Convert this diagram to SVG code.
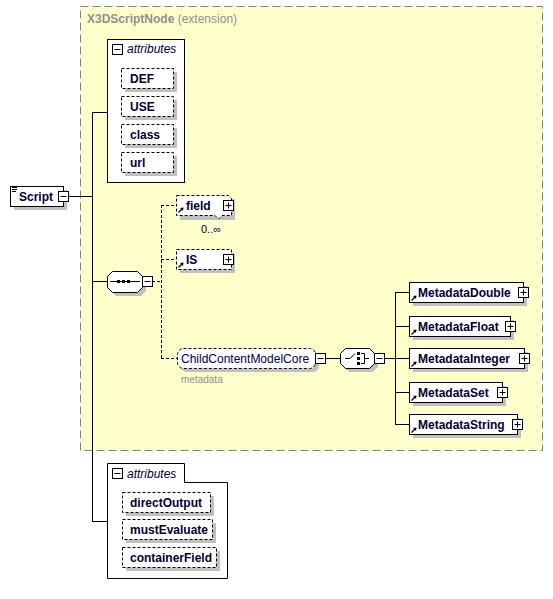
<svg xmlns="http://www.w3.org/2000/svg" width="553" height="599" viewBox="0 0 553 599">
<defs>
<style>
.bg{fill:#ffffff}
.sh{fill:#c0c0c0}
.box{fill:#ffffff;stroke:#000;stroke-width:1}
.dbox{fill:#ffffff;stroke:#000;stroke-width:1;stroke-dasharray:3,2}
.ln{stroke:#000;stroke-width:1;fill:none}
.dln{stroke:#000;stroke-width:1;fill:none;stroke-dasharray:3,2}
.el{font-family:"Liberation Sans",Arial,sans-serif;font-size:12px;font-weight:bold;fill:#000033}
.nm{font-family:"Liberation Sans",Arial,sans-serif;font-size:12px;fill:#000050}
.it{font-family:"Liberation Sans",Arial,sans-serif;font-size:12px;font-style:italic;fill:#000033}
.gr{font-family:"Liberation Sans",Arial,sans-serif;font-size:12px;fill:#909090}
.sm{font-family:"Liberation Sans",Arial,sans-serif;font-size:10px;fill:#909090}
.occ{font-family:"Liberation Sans",Arial,sans-serif;font-size:11px;fill:#000050}
</style>
<g id="plus">
<rect x="0.5" y="0.5" width="10" height="10" fill="#fff" stroke="#000"/>
<path d="M2.5,5.5H8.5M5.5,2.5V8.5" stroke="#000" fill="none"/>
</g>
<g id="minus">
<rect x="0.5" y="0.5" width="10" height="10" fill="#fff" stroke="#000"/>
<path d="M2.5,5.5H8.5" stroke="#000" fill="none"/>
</g>
<g id="ref">
<path d="M0.5,5.5L4,2" stroke="#000" stroke-width="1.2" fill="none"/>
<path d="M2,1L5.5,0.5L5,4Z" fill="#000"/>
</g>
</defs>

<g id="extension">
<rect x="80.5" y="6.5" width="462" height="444" fill="#ffffcc" stroke="#808080" stroke-dasharray="8,4"/>
<text x="87" y="23" class="gr" font-weight="bold">X3DScriptNode <tspan font-weight="normal">(extension)</tspan></text>
</g>

<g id="connectors">
<path class="ln" d="M68,196.5H92.5M92.5,112V521M92,112.5H107M92,281.5H107M92,521.5H107"/>
<path class="dln" d="M152,281.5H161.5M161.5,205V358M161,205.5H176M161,259.5H176M161,358.5H177"/>
<path class="ln" d="M326,358.5H340M384,358.5H395.5M395.5,292V424.5M395,292.5H409M395,326.5H409M395,358.5H409M395,392.5H409M395,424.5H409"/>
</g>

<g id="Script">
<rect x="14" y="190" width="53" height="20" class="sh"/>
<rect x="10.5" y="186.5" width="53" height="20" class="box"/>
<path d="M12,187.5H17M12,189.5H17M12,191.5H16" stroke="#000" fill="none"/>
<text x="19" y="201" class="el">Script</text>
<use href="#minus" x="58" y="191"/>
</g>

<g id="attributes1">
<rect x="107.5" y="39.5" width="77" height="143" class="box"/>
<use href="#minus" x="112" y="44"/>
<text x="127" y="53" class="it">attributes</text>
<g id="attr-DEF"><rect x="125" y="72" width="52" height="20" class="sh"/><rect x="121.5" y="68.5" width="52" height="20" class="dbox"/><text x="130" y="83" class="el">DEF</text></g>
<g id="attr-USE"><rect x="125" y="100" width="52" height="20" class="sh"/><rect x="121.5" y="96.5" width="52" height="20" class="dbox"/><text x="130" y="111" class="el">USE</text></g>
<g id="attr-class"><rect x="125" y="128" width="52" height="20" class="sh"/><rect x="121.5" y="124.5" width="52" height="20" class="dbox"/><text x="130" y="139" class="el">class</text></g>
<g id="attr-url"><rect x="125" y="156" width="52" height="20" class="sh"/><rect x="121.5" y="152.5" width="52" height="20" class="dbox"/><text x="130" y="167" class="el">url</text></g>
</g>

<g id="sequence">
<polygon points="116,275 141,275 146,280 146,291 141,296 116,296 111,291 111,280" class="sh"/>
<polygon points="112.5,271.5 137.5,271.5 142.5,276.5 142.5,287.5 137.5,292.5 112.5,292.5 107.5,287.5 107.5,276.5" class="box"/>
<path d="M110,281.5H140" stroke="#000" fill="none"/>
<rect x="117" y="280" width="3" height="3" fill="#000"/>
<rect x="122" y="280" width="3" height="3" fill="#000"/>
<rect x="127" y="280" width="3" height="3" fill="#000"/>
<use href="#minus" x="142" y="276"/>
</g>

<g id="field">
<rect x="180" y="199" width="55" height="21" class="sh"/>
<path d="M176.5,195.5H228.5L231.5,198.5V215.5H222L218.5,219L215,215.5H176.5Z" class="dbox"/>
<use href="#ref" x="178" y="207"/>
<text x="186" y="210" class="el">field</text>
<use href="#plus" x="223" y="200"/>
<text x="201" y="233" class="occ">0..∞</text>
</g>

<g id="IS">
<rect x="180" y="253" width="55" height="20" class="sh"/>
<rect x="176.5" y="249.5" width="55" height="20" class="dbox"/>
<use href="#ref" x="178" y="262"/>
<text x="186" y="264" class="el">IS</text>
<use href="#plus" x="223" y="254"/>
</g>

<g id="ChildContentModelCore">
<rect x="181" y="352" width="138" height="20" rx="6" class="sh"/>
<rect x="177.5" y="348.5" width="138" height="20" rx="6" class="dbox"/>
<text x="181" y="363" class="nm">ChildContentModelCore</text>
<use href="#minus" x="315" y="353"/>
<text x="181" y="383" class="sm">metadata</text>
</g>

<g id="choice">
<polygon points="349,352 373,352 378,357 378,367 373,372 349,372 344,367 344,357" class="sh"/>
<polygon points="345.5,348.5 369.5,348.5 374.5,353.5 374.5,363.5 369.5,368.5 345.5,368.5 340.5,363.5 340.5,353.5" class="box"/>
<path d="M345,358.5H350L355,353.5M361,353.5H364.5V363.5H361M364.5,358.5H369" stroke="#000" fill="none"/>
<rect x="357" y="352" width="3" height="3" fill="#000"/>
<rect x="357" y="357" width="3" height="3" fill="#000"/>
<rect x="357" y="362" width="3" height="3" fill="#000"/>
<use href="#minus" x="374" y="353"/>
</g>

<g id="MetadataDouble">
<rect x="413" y="286" width="114" height="20" class="sh"/>
<rect x="409.5" y="282.5" width="114" height="20" class="box"/>
<use href="#ref" x="411" y="295"/>
<text x="418" y="297" class="el">MetadataDouble</text>
<use href="#plus" x="518" y="287"/>
</g>
<g id="MetadataFloat">
<rect x="413" y="320" width="101" height="20" class="sh"/>
<rect x="409.5" y="316.5" width="101" height="20" class="box"/>
<use href="#ref" x="411" y="329"/>
<text x="418" y="331" class="el">MetadataFloat</text>
<use href="#plus" x="505" y="321"/>
</g>
<g id="MetadataInteger">
<rect x="413" y="352" width="115" height="20" class="sh"/>
<rect x="409.5" y="348.5" width="115" height="20" class="box"/>
<use href="#ref" x="411" y="361"/>
<text x="418" y="363" class="el">MetadataInteger</text>
<use href="#plus" x="519" y="353"/>
</g>
<g id="MetadataSet">
<rect x="413" y="386" width="93" height="20" class="sh"/>
<rect x="409.5" y="382.5" width="93" height="20" class="box"/>
<use href="#ref" x="411" y="395"/>
<text x="418" y="397" class="el">MetadataSet</text>
<use href="#plus" x="497" y="387"/>
</g>
<g id="MetadataString">
<rect x="413" y="418" width="108" height="20" class="sh"/>
<rect x="409.5" y="414.5" width="108" height="20" class="box"/>
<use href="#ref" x="411" y="427"/>
<text x="418" y="429" class="el">MetadataString</text>
<use href="#plus" x="512" y="419"/>
</g>

<g id="attributes2">
<path d="M107.5,463.5H184.5V482.5H227.5V578.5H107.5Z" class="box"/>
<use href="#minus" x="112" y="468"/>
<text x="127" y="478" class="it">attributes</text>
<g id="attr-directOutput"><rect x="126" y="496" width="88" height="20" class="sh"/><rect x="122.5" y="492.5" width="88" height="20" class="dbox"/><text x="130" y="507" class="el">directOutput</text></g>
<g id="attr-mustEvaluate"><rect x="126" y="523" width="90" height="20" class="sh"/><rect x="122.5" y="519.5" width="90" height="20" class="dbox"/><text x="130" y="534" class="el">mustEvaluate</text></g>
<g id="attr-containerField"><rect x="126" y="551" width="94" height="20" class="sh"/><rect x="122.5" y="547.5" width="94" height="20" class="dbox"/><text x="130" y="562" class="el">containerField</text></g>
</g>
</svg>
